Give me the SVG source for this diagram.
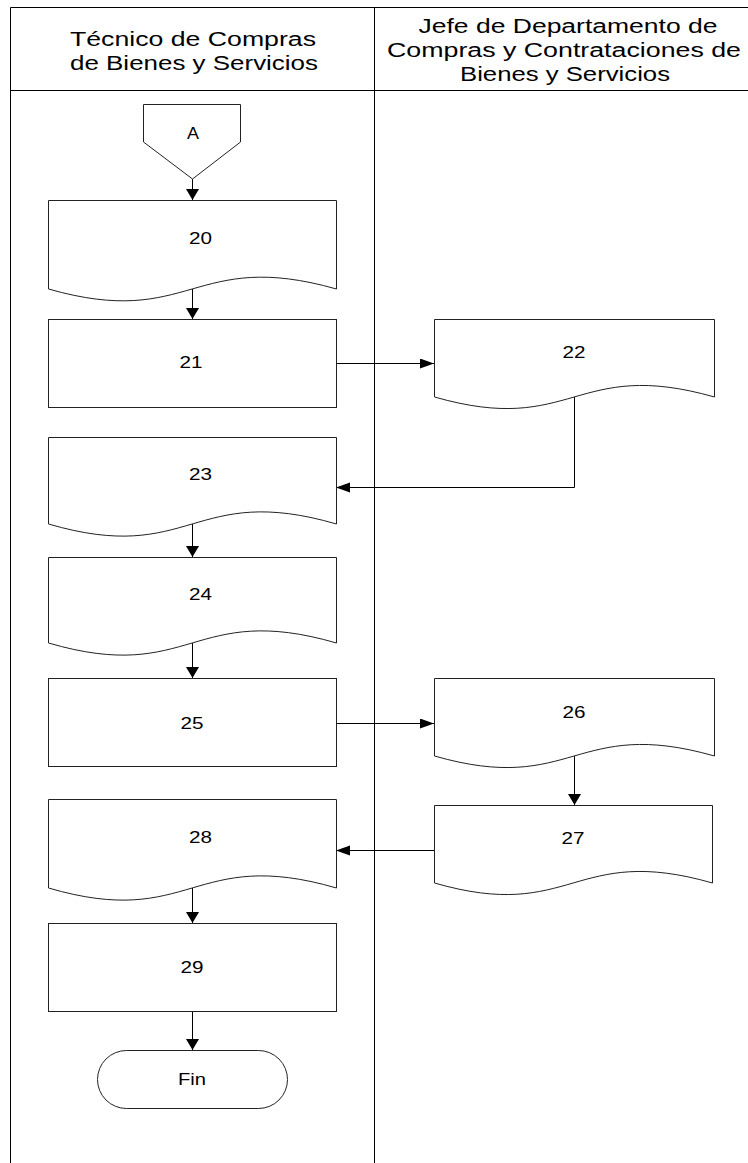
<svg xmlns="http://www.w3.org/2000/svg" width="748" height="1163" viewBox="0 0 748 1163">
<style>
.lane{fill:none;stroke:#000;stroke-width:1}
.shape{fill:#fff;stroke:#222;stroke-width:1}
.conn{fill:none;stroke:#000;stroke-width:1}
.hdr{font-family:"Liberation Sans",Arial,sans-serif;font-size:19.5px;fill:#000;text-anchor:middle}
.lbl{font-family:"Liberation Sans",Arial,sans-serif;font-size:16.5px;fill:#000;text-anchor:middle}
</style>
<defs>
<marker id="av" markerUnits="userSpaceOnUse" markerWidth="12" markerHeight="14" refX="11" refY="6.5" orient="auto">
<path d="M0,0 L11,6.5 L0,13 Z" fill="#000"/>
</marker>
<marker id="ah" markerUnits="userSpaceOnUse" markerWidth="15" markerHeight="11" refX="14" refY="5" orient="auto">
<path d="M0,0 L14,5 L0,10 Z" fill="#000"/>
</marker>
</defs>
<rect width="748" height="1163" fill="#fff"/>
<g id="lanes">
<path class="lane" d="M10.5,1163 V7.5 H748"/>
<path class="lane" d="M10.5,90.5 H748"/>
<path class="lane" d="M374.5,7.5 V1163"/>
<text class="hdr" x="193" y="45.5" textLength="246" lengthAdjust="spacingAndGlyphs">Técnico de Compras</text>
<text class="hdr" x="194" y="69.5" textLength="248" lengthAdjust="spacingAndGlyphs">de Bienes y Servicios</text>
<text class="hdr" x="568" y="33" textLength="299" lengthAdjust="spacingAndGlyphs">Jefe de Departamento de</text>
<text class="hdr" x="564" y="57" textLength="354" lengthAdjust="spacingAndGlyphs">Compras y Contrataciones de</text>
<text class="hdr" x="565" y="81" textLength="210" lengthAdjust="spacingAndGlyphs">Bienes y Servicios</text>
</g>
<g id="connectors">
<path class="conn" d="M192.5,179 V200" marker-end="url(#av)"/>
<path class="conn" d="M192.5,289 V319" marker-end="url(#av)"/>
<path class="conn" d="M336,363.5 H434" marker-end="url(#ah)"/>
<path class="conn" d="M574.5,397 V487.5 H336" marker-end="url(#ah)"/>
<path class="conn" d="M192.5,524 V557" marker-end="url(#av)"/>
<path class="conn" d="M192.5,643 V678" marker-end="url(#av)"/>
<path class="conn" d="M336,723.5 H434" marker-end="url(#ah)"/>
<path class="conn" d="M574.5,756 V805" marker-end="url(#av)"/>
<path class="conn" d="M434,850.5 H336" marker-end="url(#ah)"/>
<path class="conn" d="M192.5,888 V923" marker-end="url(#av)"/>
<path class="conn" d="M192.5,1012 V1050" marker-end="url(#av)"/>
</g>
<g id="nodeA">
<path class="shape" d="M143.5,104.5 H240.5 V142 L192.5,179 L143.5,142 Z"/>
<text class="lbl" x="193" y="139" textLength="12" lengthAdjust="spacingAndGlyphs">A</text>
</g>
<g id="node20">
<path class="shape" d="M48.5,200.5 H336.5 V289 C192,248 192,330 48.5,289 Z"/>
<text class="lbl" x="200.5" y="244" textLength="23" lengthAdjust="spacingAndGlyphs">20</text>
</g>
<g id="node21">
<rect class="shape" x="48.5" y="319.5" width="288" height="88"/>
<text class="lbl" x="191" y="368" textLength="23" lengthAdjust="spacingAndGlyphs">21</text>
</g>
<g id="node22">
<path class="shape" d="M434.5,319.5 H714.5 V397 C574,357 574,437 434.5,397 Z"/>
<text class="lbl" x="574" y="358" textLength="23" lengthAdjust="spacingAndGlyphs">22</text>
</g>
<g id="node23">
<path class="shape" d="M48.5,437.5 H336.5 V524 C192,482 192,566 48.5,524 Z"/>
<text class="lbl" x="200.5" y="480" textLength="23" lengthAdjust="spacingAndGlyphs">23</text>
</g>
<g id="node24">
<path class="shape" d="M48.5,557.5 H336.5 V643 C192,601 192,685 48.5,643 Z"/>
<text class="lbl" x="200.5" y="600" textLength="23" lengthAdjust="spacingAndGlyphs">24</text>
</g>
<g id="node25">
<rect class="shape" x="48.5" y="678.5" width="288" height="88"/>
<text class="lbl" x="192" y="729" textLength="23" lengthAdjust="spacingAndGlyphs">25</text>
</g>
<g id="node26">
<path class="shape" d="M434.5,678.5 H714.5 V756 C574,716 574,796 434.5,756 Z"/>
<text class="lbl" x="574" y="718" textLength="23" lengthAdjust="spacingAndGlyphs">26</text>
</g>
<g id="node27">
<path class="shape" d="M434.5,805.5 H712.5 V883 C573,843 573,923 434.5,883 Z"/>
<text class="lbl" x="573" y="844" textLength="23" lengthAdjust="spacingAndGlyphs">27</text>
</g>
<g id="node28">
<path class="shape" d="M48.5,799.5 H336.5 V888 C192,846 192,930 48.5,888 Z"/>
<text class="lbl" x="200.5" y="843" textLength="23" lengthAdjust="spacingAndGlyphs">28</text>
</g>
<g id="node29">
<rect class="shape" x="48.5" y="923.5" width="288" height="88"/>
<text class="lbl" x="192" y="973" textLength="23" lengthAdjust="spacingAndGlyphs">29</text>
</g>
<g id="nodeFin">
<rect class="shape" x="97.5" y="1050.5" width="190" height="58" rx="29" ry="29"/>
<text class="lbl" x="192" y="1085" textLength="28" lengthAdjust="spacingAndGlyphs">Fin</text>
</g>
</svg>
